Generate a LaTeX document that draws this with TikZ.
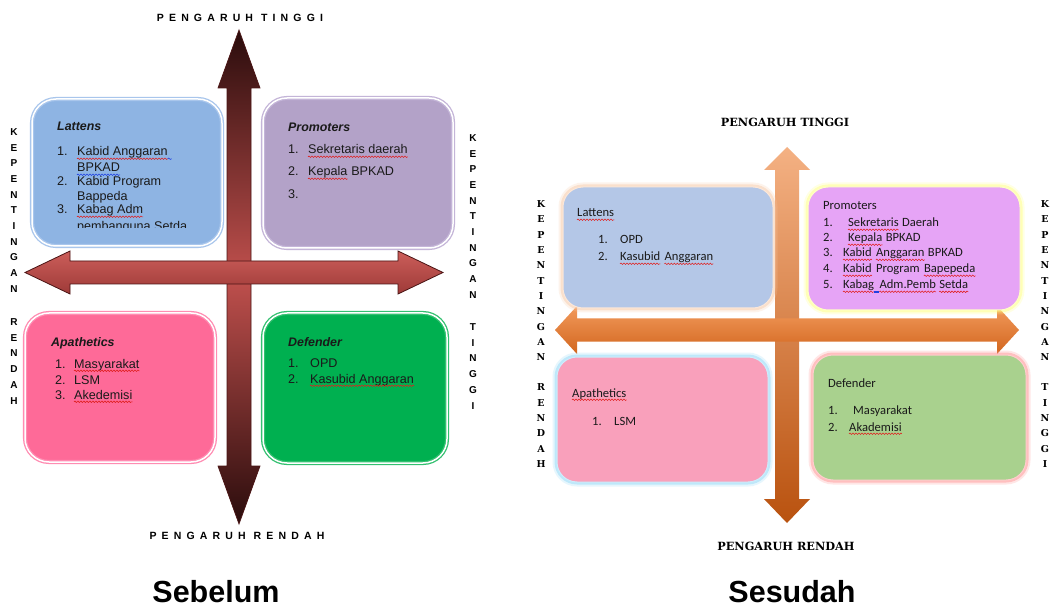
\documentclass[tikz,border=0pt]{standalone}
\usepackage{fontspec}
\setmainfont{Liberation Sans}
\newfontfamily\calibrifont{Carlito}
\newfontfamily\slabfont{DejaVu Serif}
\newfontfamily\widesans[LetterSpace=49]{Liberation Sans}
\usetikzlibrary{decorations.pathmorphing}

\definecolor{spellred}{HTML}{E02020}
\definecolor{spellblue}{HTML}{2040E0}
\definecolor{txt}{HTML}{1A1A1A}
% arrow colours
\definecolor{redA}{HTML}{C0504D}\definecolor{redAl}{HTML}{CC5E5A}\definecolor{redAd}{HTML}{9E3A38}
\definecolor{redEdge}{HTML}{4A1414}\definecolor{redTip}{HTML}{2A0C0C}
\definecolor{orT}{HTML}{F4B183}\definecolor{orM}{HTML}{EB8038}\definecolor{orB}{HTML}{B9520F}
\definecolor{orHt}{HTML}{F29A5C}\definecolor{orHb}{HTML}{D2661E}
% quadrant colours, first chart
\definecolor{latF}{HTML}{8EB4E3}\definecolor{latB}{HTML}{A9C6EC}
\definecolor{proF}{HTML}{B3A2C8}\definecolor{proB}{HTML}{C4B5D8}
\definecolor{apaF}{HTML}{FE6A98}\definecolor{apaB}{HTML}{FF8CB2}
\definecolor{defF}{HTML}{00B050}\definecolor{defB}{HTML}{33C070}
% quadrant colours, second chart
\definecolor{latF2}{HTML}{B4C7E7}\definecolor{latG2}{HTML}{F8C9A8}
\definecolor{proF2}{HTML}{E6A4F6}\definecolor{proG2}{HTML}{FFFF80}
\definecolor{apaF2}{HTML}{F9A0BB}\definecolor{apaG2}{HTML}{8FD8F8}
\definecolor{defF2}{HTML}{A9D18E}\definecolor{defG2}{HTML}{FF9090}

\tikzset{
  lbox/.style={rectangle, rounded corners=24, line width=1.3pt, double=white,
    double distance=1.5pt, inner sep=0pt, outer sep=0pt, anchor=north west},
  rbox/.style={rectangle, rounded corners=20, inner sep=0pt, outer sep=0pt, anchor=north west,
    preaction={draw=#1, line width=9pt, draw opacity=0.22},
    preaction={draw=#1, line width=5pt, draw opacity=0.45},
    draw=white!55!#1, line width=1pt},
  ltxt/.style={anchor=base west, inner sep=0pt, text=txt, font=\fontsize{12.6}{14}\selectfont},
  lttl/.style={ltxt, font=\bfseries\itshape\fontsize{12.4}{14}\selectfont},
  rtxt/.style={anchor=base west, inner sep=0pt, text=txt, font=\calibrifont\fontsize{12.6}{14}\selectfont},
  axisA/.style={inner sep=0pt, font=\widesans\bfseries\fontsize{10.5}{12}\selectfont},
  axisB/.style={inner sep=0pt, font=\slabfont\bfseries\fontsize{11.3}{13}\selectfont},
  sideA/.style={inner sep=0pt, anchor=north, align=center, font=\bfseries\fontsize{10}{15.7}\selectfont},
  sideB/.style={inner sep=0pt, anchor=north, align=center, font=\slabfont\bfseries\fontsize{9.5}{15.3}\selectfont},
  caption/.style={inner sep=0pt, font=\bfseries\fontsize{30.5}{36}\selectfont},
  wavr/.style={draw=spellred, line width=0.55pt, decorate,
    decoration={snake, amplitude=0.75pt, segment length=3pt}},
  wavb/.style={wavr, draw=spellblue},
}
% spell-check squiggle under a text node
\newcommand\sqr[1]{\draw[wavr] ([yshift=-2.8pt]#1.base west) -- ([yshift=-2.8pt]#1.base east);}
\newcommand\sqb[1]{\draw[wavb] ([yshift=-2.8pt]#1.base west) -- ([yshift=-2.8pt]#1.base east);}

\begin{document}
\begin{tikzpicture}[x=1pt,y=-1pt]
\useasboundingbox[fill=white] (0,0) rectangle (1054,609);

%% ---------------- first chart ----------------
% vertical double arrow
\shadedraw[draw=redEdge, line width=0.7pt,
  top color=redTip, bottom color=redTip, middle color=redA]
  (239,30) -- (260,88) -- (251,88) -- (251,466) -- (260,466) -- (239,524)
  -- (218,466) -- (227,466) -- (227,88) -- (218,88) -- cycle;
% horizontal double arrow, lying over the vertical one
\shadedraw[draw=redEdge, line width=0.8pt,
  top color=redAl, bottom color=redAd]
  (25,272.5) -- (70,251) -- (70,261) -- (398,261) -- (398,251) -- (443,272.5)
  -- (398,294) -- (398,284) -- (70,284) -- (70,294) -- cycle;

% quadrant boxes
\node[lbox, fill=latF, draw=latB, minimum width=190, minimum height=147] (latA) at (32,99) {};
\node[lbox, fill=proF, draw=proB, minimum width=190, minimum height=150] (proA) at (263,98) {};
\node[lbox, fill=apaF, draw=apaB, minimum width=190, minimum height=149] (apaA) at (25,313) {};
\node[lbox, fill=defF, draw=defB, minimum width=184, minimum height=150] (defA) at (263,313) {};

% Lattens
\node[lttl] (latAt) at (57,131) {Lattens};
\node[ltxt] (latA1n) at (57,156) {1.};
\node[ltxt] (latA1) at (77,156) {Kabid Anggaran};
\node[ltxt] (latA1b) at (77,172) {BPKAD};
\node[ltxt] (latA2n) at (57,186) {2.};
\node[ltxt] (latA2) at (77,186) {Kabid Program};
\node[ltxt] (latA2b) at (77,201) {Bappeda};
\node[ltxt] (latA3n) at (57,214) {3.};
\node[ltxt] (latA3) at (77,214) {Kabag Adm};
\begin{scope}
  \clip (40,200) rectangle (215,227.5);
  \node[ltxt] (latA3b) at (77,231) {pembanguna Setda};
\end{scope}
\sqr{latA1}
\draw[wavb] ([yshift=-2.8pt]latA1.base east) -- ([xshift=4pt,yshift=-2.8pt]latA1.base east);
\sqb{latA1b}
\sqr{latA3}

% Promoters
\node[lttl] (proAt) at (288,132) {Promoters};
\node[ltxt] (proA1n) at (288,154) {1.};
\node[ltxt] (proA1) at (308,154) {Sekretaris daerah};
\node[ltxt] (proA2n) at (288,176) {2.};
\node[ltxt] (proA2) at (308,176) {Kepala};
\node[ltxt] (proA2x) at ([xshift=3.5pt]proA2.base east) {BPKAD};
\node[ltxt] (proA3n) at (288,199) {3.};
\sqr{proA1}
\sqr{proA2}

% Apathetics
\node[lttl] (apaAt) at (51,346) {Apathetics};
\node[ltxt] (apaA1n) at (55,368) {1.};
\node[ltxt] (apaA1) at (74,368) {Masyarakat};
\node[ltxt] (apaA2n) at (55,384) {2.};
\node[ltxt] (apaA2) at (74,384) {LSM};
\node[ltxt] (apaA3n) at (55,399) {3.};
\node[ltxt] (apaA3) at (74,399) {Akedemisi};
\sqr{apaA1}
\sqr{apaA3}

% Defender
\node[lttl] (defAt) at (288,346) {Defender};
\node[ltxt] (defA1n) at (288,367) {1.};
\node[ltxt] (defA1) at (310,367) {OPD};
\node[ltxt] (defA2n) at (288,383) {2.};
\node[ltxt] (defA2) at (310,383) {Kasubid Anggaran};
\sqr{defA2}

% axis labels
\node[axisA] (topA) at (240,18) {PENGARUH TINGGI};
\node[axisA] (botA) at (237,536) {PENGARUH RENDAH};
\node[sideA] (leftA) at (14,128.3) {K\\E\\P\\E\\N\\T\\I\\N\\G\\A\\N\\[17.5pt]R\\E\\N\\D\\A\\H};
\node[sideA] (rightA) at (473,134.3) {K\\E\\P\\E\\N\\T\\I\\N\\G\\A\\N\\[16.5pt]T\\I\\N\\G\\G\\I};

\node[caption] (capA) at (216,592) {Sebelum};

%% ---------------- second chart ----------------
% vertical double arrow
\shade[top color=orT, middle color=orM, bottom color=orB]
  (787,147) -- (810,170) -- (799,170) -- (799,499) -- (810,499) -- (787,523)
  -- (764,499) -- (775,499) -- (775,170) -- (764,170) -- cycle;
% horizontal double arrow, lying over the vertical one
\shade[top color=orHt, bottom color=orHb]
  (555,330) -- (577,306) -- (577,318.5) -- (997,318.5) -- (997,306) -- (1019,330)
  -- (997,354) -- (997,341.5) -- (577,341.5) -- (577,354) -- cycle;

% quadrant boxes
\node[rbox=latG2, fill=latF2, minimum width=210, minimum height=121] (latB) at (563,187) {};
\node[rbox=proG2, fill=proF2, minimum width=212, minimum height=123] (proB) at (808,187) {};
\node[rbox=apaG2, fill=apaF2, minimum width=211, minimum height=125] (apaB) at (557,357) {};
\node[rbox=defG2, fill=defF2, minimum width=213, minimum height=125] (defB) at (813,355) {};

% Lattens
\node[rtxt] (latBt) at (577,217) {Lattens};
\node[rtxt] (latB1n) at (598,244) {1.};
\node[rtxt] (latB1) at (620,244) {OPD};
\node[rtxt] (latB2n) at (598,261) {2.};
\node[rtxt] (latB2) at (620,261) {Kasubid};
\node[rtxt] (latB2x) at ([xshift=4pt]latB2.base east) {Anggaran};
\sqr{latBt}
\sqr{latB2}
\sqr{latB2x}

% Promoters
\node[rtxt] (proBt) at (823,210) {Promoters};
\node[rtxt] (proB1n) at (823,227) {1.};
\node[rtxt] (proB1) at (848,227) {Sekretaris};
\node[rtxt] (proB1x) at ([xshift=3pt]proB1.base east) {Daerah};
\node[rtxt] (proB2n) at (823,242) {2.};
\node[rtxt] (proB2) at (848,242) {Kepala};
\node[rtxt] (proB2x) at ([xshift=3pt]proB2.base east) {BPKAD};
\node[rtxt] (proB3n) at (823,257) {3.};
\node[rtxt] (proB3) at (843,257) {Kabid};
\node[rtxt] (proB3y) at ([xshift=4pt]proB3.base east) {Anggaran};
\node[rtxt] (proB3x) at ([xshift=3pt]proB3y.base east) {BPKAD};
\node[rtxt] (proB4n) at (823,273) {4.};
\node[rtxt] (proB4) at (843,273) {Kabid};
\node[rtxt] (proB4x) at ([xshift=4pt]proB4.base east) {Program};
\node[rtxt] (proB4y) at ([xshift=4pt]proB4x.base east) {Bapepeda};
\node[rtxt] (proB5n) at (823,289) {5.};
\node[rtxt] (proB5) at (843,289) {Kabag};
\node[rtxt] (proB5x) at ([xshift=5pt]proB5.base east) {Adm.Pemb};
\node[rtxt] (proB5y) at ([xshift=3pt]proB5x.base east) {Setda};
\sqr{proB1}
\sqr{proB2}
\sqr{proB3}
\sqr{proB3y}
\sqr{proB4}
\sqr{proB4y}
\sqr{proB5}
\sqr{proB5x}
\sqr{proB5y}
\draw[spellblue, line width=0.6pt] ([yshift=-2.4pt]proB5.base east) -- ([yshift=-2.4pt]proB5x.base west);
\draw[spellblue, line width=0.6pt] ([yshift=-3.6pt]proB5.base east) -- ([yshift=-3.6pt]proB5x.base west);

% Apathetics
\node[rtxt] (apaBt) at (572,397) {Apathetics};
\node[rtxt] (apaB1n) at (592,425) {1.};
\node[rtxt] (apaB1) at (614,425) {LSM};
\sqr{apaBt}

% Defender
\node[rtxt] (defBt) at (828,387) {Defender};
\node[rtxt] (defB1n) at (828,414) {1.};
\node[rtxt] (defB1) at (853,414) {Masyarakat};
\node[rtxt] (defB2n) at (828,431) {2.};
\node[rtxt] (defB2) at (849,431) {Akademisi};
\sqr{defB2}

% axis labels
\node[axisB] (topB) at (785,122) {PENGARUH TINGGI};
\node[axisB] (botB) at (786,546) {PENGARUH RENDAH};
\node[sideB] (leftB) at (541,200.5) {K\\E\\P\\E\\N\\T\\I\\N\\G\\A\\N\\[15pt]R\\E\\N\\D\\A\\H};
\node[sideB] (rightB) at (1045,200.5) {K\\E\\P\\E\\N\\T\\I\\N\\G\\A\\N\\[15pt]T\\I\\N\\G\\G\\I};

\node[caption] (capB) at (792,592) {Sesudah};
\end{tikzpicture}
\end{document}
